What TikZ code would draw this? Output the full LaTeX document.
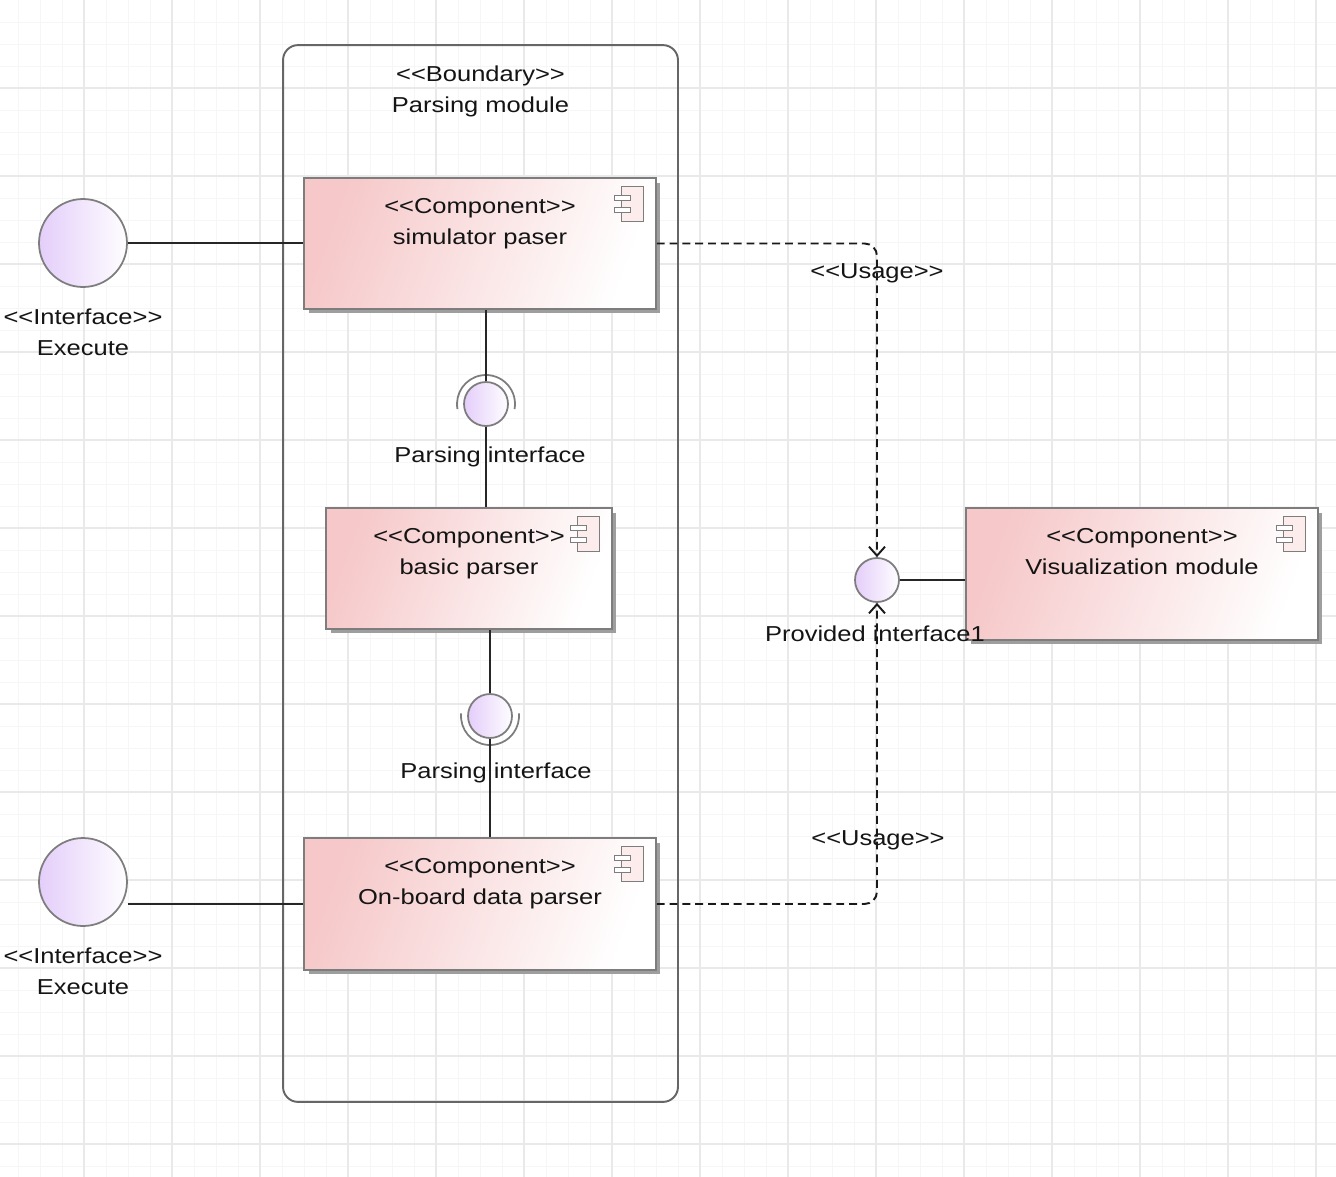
\documentclass[tikz,border=0pt]{standalone}
\usepackage{fontspec}
\setmainfont{Liberation Sans}[FakeStretch=1.18]
\usepackage{tikz}
\usetikzlibrary{calc,positioning,shadows,arrows.meta}

\definecolor{compPink}{RGB}{246,200,201}
\definecolor{ballLilac}{RGB}{228,206,250}
\definecolor{edgeGray}{RGB}{125,125,125}
\definecolor{gridMajor}{RGB}{233,233,233}
\definecolor{gridMinor}{RGB}{246,246,246}

% stereotype text without guillemet mapping
\newcommand{\stereo}[1]{<\kern0pt<#1>\kern0pt>}
% little component symbol in the top right corner
\newcommand{\compicon}[1]{%
  \draw[edgeGray,fill=compPink!35,line width=0.8pt] ($(#1.north east)+(-35,9)$) rectangle ($(#1.north east)+(-13,44)$);
  \draw[edgeGray,fill=white,line width=0.8pt] ($(#1.north east)+(-42,18)$) rectangle ($(#1.north east)+(-26,23)$);
  \draw[edgeGray,fill=white,line width=0.8pt] ($(#1.north east)+(-42,30)$) rectangle ($(#1.north east)+(-26,35)$);
}

\begin{document}
\begin{tikzpicture}[x=0.02cm,y=-0.02cm,
    txt/.style={font=\fontsize{12.3}{17.6}\selectfont,align=center,inner sep=0pt,text=black!92},
    comp/.style={draw=edgeGray,line width=0.9pt,left color=compPink,right color=white,shading angle=70,
        drop shadow={shadow xshift=0.09cm,shadow yshift=-0.09cm,fill=black!38,opacity=1}},
    ball/.style={circle,draw=edgeGray,line width=1pt,left color=ballLilac,right color=white!97!ballLilac,inner sep=0pt},
    socket/.style={edgeGray,line width=1pt},
    wire/.style={line width=1.1pt,black!85},
    usage/.style={line width=1.1pt,black!90,dash pattern=on 4.5pt off 2.8pt,rounded corners=0.25cm,
        -{Straight Barb[length=0.18cm,width=0.32cm]}}]

    \useasboundingbox (0,0) rectangle (1336,1177);

    % grid
    \foreach \gx in {18,40,...,1336} \draw[gridMinor,line width=0.5pt] (\gx,0) -- (\gx,1177);
    \foreach \gy in {22,44,...,1177} \draw[gridMinor,line width=0.5pt] (0,\gy) -- (1336,\gy);
    \foreach \gx in {84,172,...,1336} \draw[gridMajor,line width=0.6pt] (\gx,0) -- (\gx,1177);
    \foreach \gy in {88,176,...,1177} \draw[gridMajor,line width=0.6pt] (0,\gy) -- (1336,\gy);

    % boundary
    \node[draw=black!60,line width=1.1pt,rounded corners=0.3cm,minimum width=7.9cm,minimum height=21.14cm] (module) at (480.5,573.5) {};
    \node[txt,below=0.42cm of module.north] (modlbl) {\stereo{Boundary}\\Parsing module};

    % components
    \node[comp,minimum width=7.04cm,minimum height=2.62cm] (sim) at (480,243.5) {};
    \node[comp,minimum width=5.72cm,minimum height=2.42cm] (bas) at (469,568.5) {};
    \node[comp,minimum width=7.04cm,minimum height=2.64cm] (obd) at (480,904) {};
    \node[comp,minimum width=7.04cm,minimum height=2.64cm] (vis) at (1142,574) {};
    \compicon{sim}
    \compicon{bas}
    \compicon{obd}
    \compicon{vis}
    \node[txt,below=0.42cm of sim.north] (simlbl) {\stereo{Component}\\simulator paser};
    \node[txt,below=0.42cm of bas.north] (baslbl) {\stereo{Component}\\basic parser};
    \node[txt,below=0.42cm of obd.north] (obdlbl) {\stereo{Component}\\On-board data parser};
    \node[txt,below=0.42cm of vis.north] (vislbl) {\stereo{Component}\\Visualization module};

    % interfaces on the left
    \node[ball,minimum size=1.76cm] (ex1) at (83,243) {};
    \node[ball,minimum size=1.76cm] (ex2) at (83,882) {};
    \node[txt,below=0.42cm of ex1.south] (ex1lbl) {\stereo{Interface}\\Execute};
    \node[txt,below=0.42cm of ex2.south] (ex2lbl) {\stereo{Interface}\\Execute};
    \draw[wire] (ex1.east) -- (ex1.east -| sim.west);
    \draw[wire] (ex2.east |- obd.west) -- (obd.west);

    % parsing interfaces
    \node[ball,minimum size=0.88cm] (pi1) at (486,404) {};
    \node[ball,minimum size=0.88cm] (pi2) at (490,716) {};
    \draw[socket] ($(pi1.center)+(190:0.58cm)$) arc[start angle=190,end angle=-10,radius=0.58cm];
    \draw[socket] ($(pi2.center)+(175:0.58cm)$) arc[start angle=175,end angle=365,radius=0.58cm];
    \node[txt,below=0.4cm of pi1.south,xshift=0.08cm] (pi1lbl) {Parsing interface};
    \node[txt,below=0.48cm of pi2.south,xshift=0.12cm] (pi2lbl) {Parsing interface};
    \draw[wire] (pi1.north |- sim.south) -- (pi1.north);
    \draw[wire] (pi1.south) -- (pi1.south |- bas.north);
    \draw[wire] (pi2.north |- bas.south) -- (pi2.north);
    \draw[wire] (pi2.south) -- (pi2.south |- obd.north);

    % provided interface
    \node[ball,minimum size=0.88cm] (pv) at (877,580) {};
    \draw[wire] (pv.east) -- (pv.east -| vis.west);
    \node[txt,below=0.46cm of pv.south,xshift=-0.04cm] (pvlbl) {Provided interface1};

    % usage dependencies
    \node[txt] (use1) at (877,273) {\stereo{Usage}};
    \node[txt] (use2) at (878,840) {\stereo{Usage}};
    \draw[usage] (sim.east) -| (pv.north);
    \draw[usage] (obd.east) -| (pv.south);

\end{tikzpicture}
\end{document}
